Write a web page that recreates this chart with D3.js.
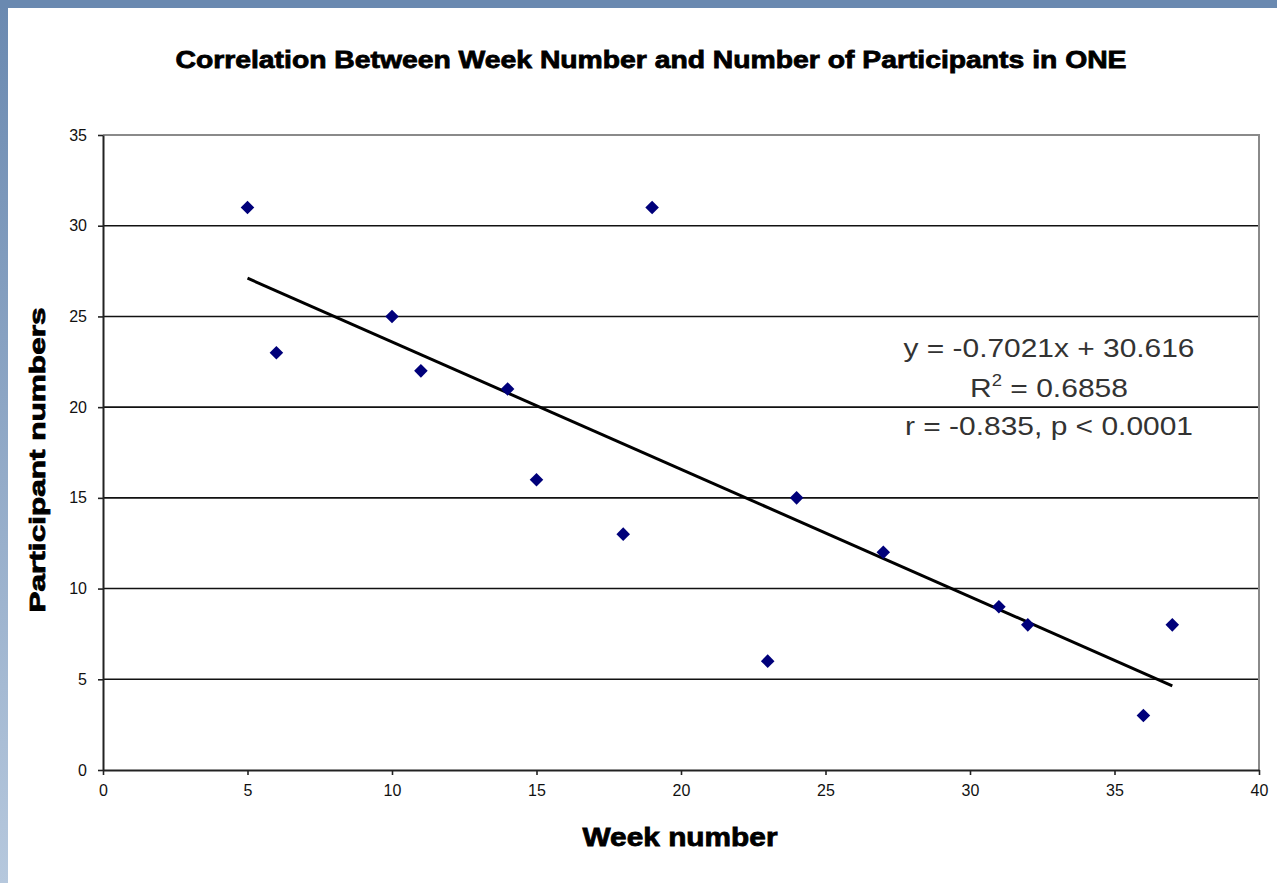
<!DOCTYPE html>
<html>
<head>
<meta charset="utf-8">
<script src="https://cdn.jsdelivr.net/npm/d3@7"></script>
<style>
  html, body { margin: 0; padding: 0; background: #fff; }
  svg { display: block; }
</style>
</head>
<body>
<div id="chart"></div>
<script>
  // data
  let weeks = [5, 6, 10, 11, 14, 15, 18, 19, 23, 24, 27, 31, 32, 36, 37]
  let participants = [31, 23, 25, 22, 21, 16, 13, 31, 6, 15, 12, 9, 8, 3, 8]
  let xTicks = [0, 5, 10, 15, 20, 25, 30, 35, 40]
  let yTicks = [0, 5, 10, 15, 20, 25, 30, 35]
  // trendline as printed on the chart
  let slope = -0.7021
  let intercept = 30.616
  let trendRange = [5, 37]
  let statLines = ["y = -0.7021x + 30.616", "R2 = 0.6858", "r = -0.835, p < 0.0001"]

  let w = 1277
  let h = 883
  let plotLeft = 103, plotRight = 1259, plotTop = 135, plotBottom = 770

  let svg = d3.select("#chart").append("svg")
      .attr("width", w)
      .attr("height", h)

  /* frame : blue band top + gradient band left */
  let defs = svg.append("defs")
  let grad = defs.append("linearGradient")
      .attr("id", "leftBand")
      .attr("x1", 0).attr("y1", 0).attr("x2", 0).attr("y2", 1)
  grad.append("stop").attr("offset", "0%").attr("stop-color", "#6a89b0")
  grad.append("stop").attr("offset", "100%").attr("stop-color", "#b6c8dd")

  svg.append("rect").attr("x", 0).attr("y", 0).attr("width", w).attr("height", h).attr("fill", "#fff")
  svg.append("rect").attr("x", 0).attr("y", 0).attr("width", 8).attr("height", h).attr("fill", "url(#leftBand)")
  svg.append("rect").attr("x", 0).attr("y", 0).attr("width", w).attr("height", 8).attr("fill", "#6a89b0")

  /* scales */
  let x = d3.scaleLinear().domain([0, 40]).range([plotLeft, plotRight])
  let y = d3.scaleLinear().domain([0, 35]).range([plotBottom, plotTop])

  /* gridlines */
  svg.append("g")
      .selectAll("line")
      .data(yTicks.filter(function (t) { return t > 0 && t < 35 }))
      .enter()
      .append("line")
      .attr("x1", plotLeft).attr("x2", plotRight)
      .attr("y1", function (t) { return y(t) })
      .attr("y2", function (t) { return y(t) })
      .attr("stroke", "#111")
      .attr("stroke-width", 1.6)

  /* plot border top + right */
  svg.append("path")
      .attr("d", "M" + plotLeft + "," + y(35) + "H" + x(40) + "V" + y(0))
      .attr("fill", "none")
      .attr("stroke", "#8a8a8a")
      .attr("stroke-width", 2)

  /* axes */
  let xAxis = svg.append("g")
      .attr("transform", "translate(0," + y(0) + ")")
      .call(d3.axisBottom(x).tickValues(xTicks).tickSize(5).tickPadding(10).tickSizeOuter(0))
  let yAxis = svg.append("g")
      .attr("transform", "translate(" + x(0) + ",0)")
      .call(d3.axisLeft(y).tickValues(yTicks).tickSize(5).tickPadding(11).tickSizeOuter(0))

  for (let ax of [xAxis, yAxis]) {
    ax.select(".domain").attr("stroke", "#222").attr("stroke-width", 2)
    ax.selectAll(".tick line").attr("stroke", "#222").attr("stroke-width", 1.6)
    ax.selectAll("text")
        .attr("font-family", "Liberation Sans, Arial, sans-serif")
        .attr("font-size", "16px")
        .attr("fill", "#111")
  }

  /* trendline */
  svg.append("line")
      .attr("x1", x(trendRange[0]))
      .attr("y1", y(slope * trendRange[0] + intercept))
      .attr("x2", x(trendRange[1]))
      .attr("y2", y(slope * trendRange[1] + intercept))
      .attr("stroke", "#000")
      .attr("stroke-width", 3)

  /* points : navy diamonds */
  let diamond = d3.symbol().type(d3.symbolSquare).size(92)
  svg.append("g")
      .selectAll("path")
      .data(weeks)
      .enter()
      .append("path")
      .attr("d", diamond)
      .attr("transform", function (wk, i) {
        return "translate(" + x(wk) + "," + y(participants[i]) + ") rotate(45)"
      })
      .attr("fill", "#00007a")

  /* stats text */
  let statY = [357, 397, 435]
  let statW = [291, 158, 288]
  let stats = svg.append("g")
      .attr("font-family", "Liberation Sans, Arial, sans-serif")
      .attr("font-size", "26px")
      .attr("fill", "#333")
      .attr("text-anchor", "middle")
  statLines.forEach(function (s, i) {
    let t = stats.append("text")
        .attr("x", 1049)
        .attr("y", statY[i])
        .attr("textLength", statW[i])
        .attr("lengthAdjust", "spacingAndGlyphs")
    if (s.indexOf("R2") === 0) {
      t.append("tspan").text("R")
      t.append("tspan").attr("font-size", "16px").attr("dy", -11).text("2")
      t.append("tspan").attr("dy", 11).text(s.slice(2))
    } else {
      t.text(s)
    }
  })

  /* titles */
  svg.append("text")
      .attr("x", 651)
      .attr("y", 68)
      .attr("text-anchor", "middle")
      .attr("font-family", "Liberation Sans, Arial, sans-serif")
      .attr("font-weight", "bold")
      .attr("font-size", "24px")
      .attr("stroke", "#000")
      .attr("stroke-width", 0.8)
      .attr("textLength", 951)
      .attr("lengthAdjust", "spacingAndGlyphs")
      .text("Correlation Between Week Number and Number of Participants in ONE")

  svg.append("text")
      .attr("x", 680)
      .attr("y", 846)
      .attr("text-anchor", "middle")
      .attr("font-family", "Liberation Sans, Arial, sans-serif")
      .attr("font-weight", "bold")
      .attr("font-size", "26px")
      .attr("stroke", "#000")
      .attr("stroke-width", 0.8)
      .attr("textLength", 195)
      .attr("lengthAdjust", "spacingAndGlyphs")
      .text("Week number")

  svg.append("text")
      .attr("transform", "translate(45,460) rotate(-90)")
      .attr("text-anchor", "middle")
      .attr("font-family", "Liberation Sans, Arial, sans-serif")
      .attr("font-weight", "bold")
      .attr("font-size", "22px")
      .attr("stroke", "#000")
      .attr("stroke-width", 0.8)
      .attr("textLength", 305)
      .attr("lengthAdjust", "spacingAndGlyphs")
      .text("Participant numbers")
</script>
</body>
</html>
